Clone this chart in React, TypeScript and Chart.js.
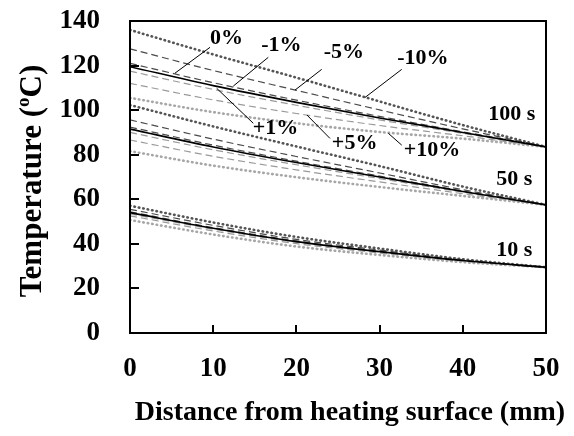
import React, { useEffect, useRef } from "react";
import { Chart, registerables } from "chart.js";

Chart.register(...registerables);

// ---- data ----
const distance = [0, 10, 20, 30, 40, 50];

// 100 s
const t100_0 = [119.5, 111, 103.5, 96.5, 90, 83.5];
const t100_m1 = [121, 112.3, 104.5, 97.2, 90.3, 83.5];
const t100_m5 = [127.5, 117.8, 108.9, 100.1, 91.6, 83.5];
const t100_m10 = [136, 125, 114.6, 103.9, 93.3, 83.5];
const t100_p1 = [117.5, 109.3, 102.2, 95.6, 89.6, 83.5];
const t100_p5 = [112, 104.6, 98.5, 93.1, 88.5, 83.5];
const t100_p10 = [105.5, 99.1, 94.1, 90.2, 87.2, 83.5];

// 50 s
const t50_0 = [91.5, 83.5, 76.5, 70, 63.5, 57.5];
const t50_m1 = [92.4, 84.3, 77.1, 70.4, 63.7, 57.5];
const t50_m5 = [95.6, 87, 79.2, 71.8, 64.3, 57.5];
const t50_m10 = [102.3, 92.7, 83.7, 74.9, 65.7, 57.5];
const t50_p1 = [90, 82.2, 75.5, 69.3, 63.2, 57.5];
const t50_p5 = [86.6, 79.3, 73.2, 67.8, 62.5, 57.5];
const t50_p10 = [81.6, 75.1, 69.9, 65.5, 61.5, 57.5];

// 10 s
const t10_0 = [54, 47, 41, 36.5, 32.5, 29.5];
const t10_m1 = [54.4, 47.3, 41.3, 36.7, 32.6, 29.5];
const t10_m5 = [55.5, 48.3, 42, 37.2, 32.8, 29.5];
const t10_m10 = [57.1, 49.6, 43.1, 37.9, 33.1, 29.5];
const t10_p1 = [53.5, 46.6, 40.7, 36.3, 32.4, 29.5];
const t10_p5 = [52.6, 45.8, 40.1, 35.9, 32.2, 29.5];
const t10_p10 = [50.7, 44.2, 38.8, 35, 31.8, 29.5];

const variants = ["0%", "-1%", "-5%", "-10%", "+1%", "+5%", "+10%"];
const times = ["100 s", "50 s", "10 s"];
const seriesByTime = [
  [t100_0, t100_m1, t100_m5, t100_m10, t100_p1, t100_p5, t100_p10],
  [t50_0, t50_m1, t50_m5, t50_m10, t50_p1, t50_p5, t50_p10],
  [t10_0, t10_m1, t10_m5, t10_m10, t10_p1, t10_p5, t10_p10],
];

const xTickValues = [0, 10, 20, 30, 40, 50];
const yTickValues = [0, 20, 40, 60, 80, 100, 120, 140];

// annotation labels (data coordinates)
const noteText = ["0%", "-1%", "-5%", "-10%", "+1%", "+5%", "+10%", "100 s", "50 s", "10 s"];
const noteX = [11.6, 18.2, 25.7, 35.2, 17.5, 27.0, 36.3, 45.9, 46.2, 46.2];
const noteY = [132.2, 129.2, 125.8, 123.2, 91.8, 85.1, 82.1, 98.2, 69, 37.2];

// leader lines (data coordinates)
const leadX1 = [5.41, 12.42, 19.83, 28.25, 10.42, 21.27, 31.05];
const leadY1 = [116.6, 110.8, 109.0, 105.7, 109.8, 97.8, 89.6];
const leadX2 = [9.62, 16.62, 23.04, 32.66, 14.82, 24.04, 32.66];
const leadY2 = [128.2, 123.7, 118.3, 118.3, 94.1, 87.3, 84.3];

const xTitle = "Distance from heating surface (mm)";
const yTitleA = "Temperature (";
const yTitleSup = "o";
const yTitleB = "C)";

// ---- styles ----
const FONT = '"Liberation Serif", "Times New Roman", serif';
const variantStyle: Record<string, any> = {
  "0%": { color: "#000000", width: 1.6, dash: [], cap: "butt" },
  "-1%": { color: "#4a4a4a", width: 1.2, dash: [7, 4], cap: "butt" },
  "-5%": { color: "#4a4a4a", width: 1.2, dash: [7, 4], cap: "butt" },
  "-10%": { color: "#555555", width: 2.6, dash: [0.5, 4], cap: "round" },
  "+1%": { color: "#9a9a9a", width: 1.2, dash: [7, 4], cap: "butt" },
  "+5%": { color: "#9a9a9a", width: 1.2, dash: [7, 4], cap: "butt" },
  "+10%": { color: "#a6a6a6", width: 2.6, dash: [0.5, 4], cap: "round" },
};

const decor = {
  id: "decor",
  beforeDraw(chart: any) {
    const { ctx } = chart;
    ctx.save();
    ctx.fillStyle = "#ffffff";
    ctx.fillRect(0, 0, chart.width, chart.height);
    ctx.restore();
  },
  afterDraw(chart: any) {
    const { ctx, chartArea: a } = chart;
    const xs = chart.scales.x;
    const ys = chart.scales.y;
    ctx.save();
    ctx.strokeStyle = "#000";
    ctx.lineWidth = 2;
    ctx.strokeRect(a.left, a.top, a.right - a.left, a.bottom - a.top);
    ctx.beginPath();
    xTickValues.forEach((v) => {
      const px = Math.round(xs.getPixelForValue(v));
      ctx.moveTo(px, a.bottom);
      ctx.lineTo(px, a.bottom - 8);
    });
    yTickValues.forEach((v) => {
      const py = Math.round(ys.getPixelForValue(v));
      ctx.moveTo(a.left, py);
      ctx.lineTo(a.left + 9, py);
    });
    ctx.stroke();

    // leaders
    ctx.lineWidth = 1;
    ctx.beginPath();
    for (let i = 0; i < leadX1.length; i++) {
      ctx.moveTo(xs.getPixelForValue(leadX1[i]), ys.getPixelForValue(leadY1[i]));
      ctx.lineTo(xs.getPixelForValue(leadX2[i]), ys.getPixelForValue(leadY2[i]));
    }
    ctx.stroke();

    // notes
    ctx.fillStyle = "#000";
    ctx.font = `bold 22px ${FONT}`;
    ctx.textAlign = "center";
    ctx.textBaseline = "middle";
    for (let i = 0; i < noteText.length; i++) {
      ctx.fillText(noteText[i], xs.getPixelForValue(noteX[i]), ys.getPixelForValue(noteY[i]));
    }

    // x title
    ctx.font = `bold 28px ${FONT}`;
    ctx.fillText(xTitle, (a.left + a.right) / 2 + 12, 413);

    // y title with superscript
    ctx.save();
    ctx.translate(33, 181);
    ctx.rotate(-Math.PI / 2);
    ctx.font = `bold 31px ${FONT}`;
    const wA = ctx.measureText(yTitleA).width;
    const wB = ctx.measureText(yTitleB).width;
    ctx.font = `bold 19px ${FONT}`;
    const wS = ctx.measureText(yTitleSup).width;
    const total = wA + wS + wB;
    let cx = -total / 2;
    ctx.textAlign = "left";
    ctx.font = `bold 31px ${FONT}`;
    ctx.fillText(yTitleA, cx, 0);
    cx += wA;
    ctx.font = `bold 19px ${FONT}`;
    ctx.fillText(yTitleSup, cx, -9);
    cx += wS;
    ctx.font = `bold 31px ${FONT}`;
    ctx.fillText(yTitleB, cx, 0);
    ctx.restore();

    ctx.restore();
  },
};

export default function App() {
  const ref = useRef<HTMLCanvasElement | null>(null);
  useEffect(() => {
    if (!ref.current) return;
    const datasets: any[] = [];
    seriesByTime.forEach((group, gi) => {
      group.forEach((vals, vi) => {
        const st = variantStyle[variants[vi]];
        datasets.push({
          label: `${times[gi]} ${variants[vi]}`,
          data: distance.map((d, k) => ({ x: d, y: vals[k] })),
          borderColor: st.color,
          borderWidth: st.width,
          borderDash: st.dash,
          borderCapStyle: st.cap,
          pointRadius: 0,
          fill: false,
          cubicInterpolationMode: "monotone",
          order: vi === 0 ? 0 : 1,
        });
      });
    });
    const chart = new Chart(ref.current, {
      type: "line",
      data: { datasets },
      options: {
        animation: false,
        responsive: false,
        layout: { padding: { top: 21, right: 28, left: 0, bottom: 0 } },
        plugins: { legend: { display: false }, tooltip: { enabled: false } },
        scales: {
          x: {
            type: "linear",
            min: 0,
            max: 50,
            afterBuildTicks: (s: any) => {
              s.ticks = xTickValues.map((v) => ({ value: v }));
            },
            afterFit: (s: any) => {
              s.height = 103;
              s.paddingLeft = 0;
              s.paddingRight = 0;
            },
            grid: { display: false, drawTicks: false },
            border: { display: false },
            ticks: {
              padding: 20,
              color: "#000",
              font: { family: FONT, size: 27, weight: "bold" },
              maxRotation: 0,
            },
          },
          y: {
            type: "linear",
            min: 0,
            max: 140,
            afterBuildTicks: (s: any) => {
              s.ticks = yTickValues.map((v) => ({ value: v }));
            },
            afterFit: (s: any) => {
              s.width = 130;
              s.paddingTop = 0;
              s.paddingBottom = 0;
            },
            grid: { display: false, drawTicks: false },
            border: { display: false },
            ticks: {
              padding: 30,
              color: "#000",
              font: { family: FONT, size: 27, weight: "bold" },
            },
          },
        },
      },
      plugins: [decor],
    });
    return () => chart.destroy();
  }, []);
  return (
    <div style={{ position: "fixed", left: 0, top: 0, width: 574, height: 436 }}>
      <canvas ref={ref} width={574} height={436} style={{ display: "block" }} />
    </div>
  );
}
